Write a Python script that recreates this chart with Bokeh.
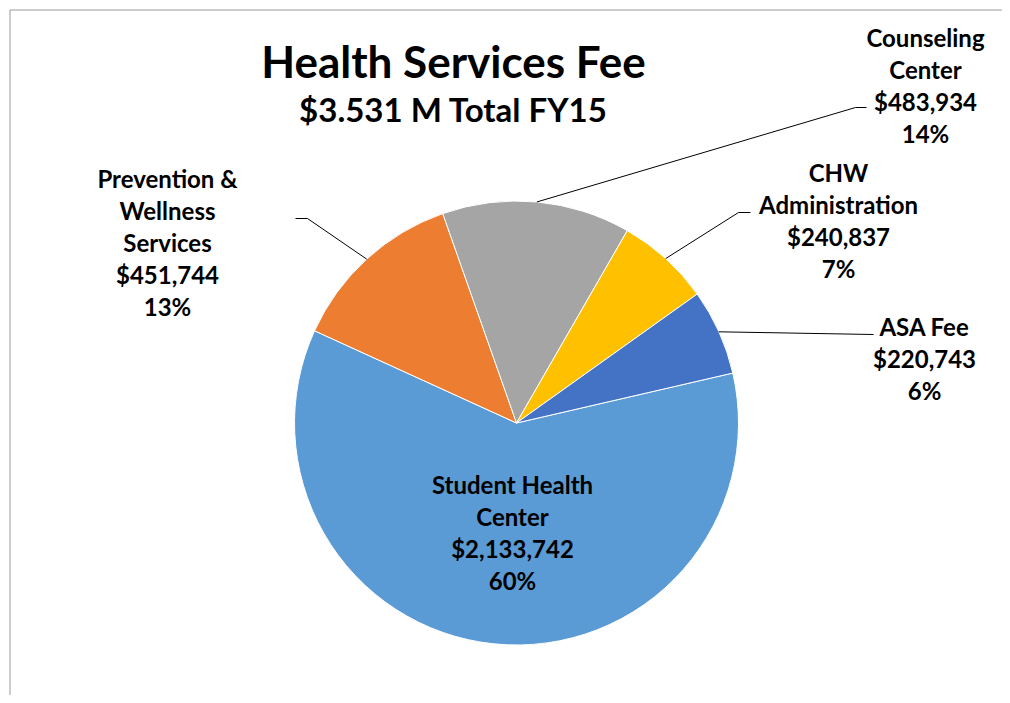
import math
from bokeh.plotting import figure
from bokeh.models import Range1d, ColumnDataSource
from bokeh.core.properties import value
from bokeh.embed import file_html
from bokeh.resources import INLINE

# ---------------- data ----------------
categories = ["Student Health\nCenter", "Prevention &\nWellness\nServices",
              "Counseling\nCenter", "CHW\nAdministration", "ASA Fee"]
amounts = [2133742, 451744, 483934, 240837, 220743]
colors = ["#5B9BD5", "#ED7D31", "#A5A5A5", "#FFC000", "#4472C4"]
title_text = "Health Services Fee"
subtitle_text = "$3.531 M Total FY15"

# ---------------- layout ----------------
FIRST_ANGLE = 77.0           # degrees clockwise from 12 o'clock
CX, CY, R = 516, 422.5, 222  # pie centre / radius in page pixels
FONT = "Lato"
LABEL_SIZE = "24px"
LINE_STEP = 32
label_anchor = [(512, 484), (167, 178), (925, 37), (838, 172), (924, 326)]
leader_tail = [None, [(307, 218), (295, 218)], [(855, 107), (866, 107)],
               [(738, 212), (750, 212)], [(873, 334)]]

W, H = 1002, 695
p = figure(width=W, height=H, x_range=Range1d(0, W), y_range=Range1d(-H, 0),
           output_backend="svg", toolbar_location=None, min_border=0,
           x_axis_location=None, y_axis_location=None)
p.grid.visible = False
p.outline_line_color = None
p.background_fill_color = "white"

# chart border (top and left edges visible)
p.line([9.5, 9.5], [-H, -9.5], line_color="#9A9A9A", line_width=1)
p.line([9.5, W], [-9.5, -9.5], line_color="#9A9A9A", line_width=1)

# ---------------- pie ----------------
total = sum(amounts)
starts, ends, mids = [], [], []
cum = 0
for a in amounts:
    t0 = FIRST_ANGLE + 360.0 * cum / total
    cum += a
    t1 = FIRST_ANGLE + 360.0 * cum / total
    starts.append(math.radians(90 - t0))
    ends.append(math.radians(90 - t1))
    mids.append((t0 + t1) / 2.0)

src = ColumnDataSource(dict(x=[CX] * len(amounts), y=[-CY] * len(amounts),
                            start=starts, end=ends, color=colors))
p.wedge(x="x", y="y", radius=R, start_angle="start", end_angle="end",
        direction="clock", fill_color="color", line_color="white", line_width=1,
        source=src)

# ---------------- leader lines ----------------
for i, tail in enumerate(leader_tail):
    if tail is None:
        continue
    th = math.radians(mids[i])
    sx = CX + R * math.sin(th)
    sy = CY - R * math.cos(th)
    xs = [sx] + [pt[0] for pt in tail]
    ys = [-sy] + [-pt[1] for pt in tail]
    p.line(xs, ys, line_color="black", line_width=1)

# ---------------- labels ----------------
tx, ty, tt = [], [], []
for i, name in enumerate(categories):
    lines = name.split("\n") + ["${:,}".format(amounts[i]),
                                "{}%".format(round(100 * amounts[i] / total))]
    ax, ay = label_anchor[i]
    for k, ln in enumerate(lines):
        tx.append(ax)
        ty.append(-(ay + k * LINE_STEP))
        tt.append(ln)
p.text(x=tx, y=ty, text=tt, text_align="center", text_baseline="alphabetic",
       text_font=value(FONT), text_font_style="bold", text_font_size=LABEL_SIZE,
       text_color="black")

# ---------------- title ----------------
p.text(x=[453], y=[-60], text=[title_text], text_align="center",
       text_baseline="alphabetic", text_font=value(FONT), text_font_style="bold",
       text_font_size="44px", text_color="black")
p.text(x=[453], y=[-108], text=[subtitle_text], text_align="center",
       text_baseline="alphabetic", text_font=value(FONT), text_font_style="bold",
       text_font_size="33px", text_color="black")

open("out.html", "w").write(file_html(p, INLINE))
